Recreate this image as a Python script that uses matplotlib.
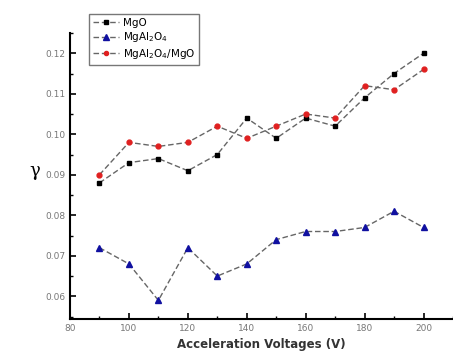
import numpy as np
import matplotlib.pyplot as plt
from matplotlib.ticker import MultipleLocator

voltage = [90, 100, 110, 120, 130, 140, 150, 160, 170, 180, 190, 200]
mgo = [0.088, 0.093, 0.094, 0.091, 0.095, 0.104, 0.099, 0.104, 0.102, 0.109, 0.115, 0.120]
mgal2o4 = [0.072, 0.068, 0.059, 0.072, 0.065, 0.068, 0.074, 0.076, 0.076, 0.077, 0.081, 0.077]
mixed = [0.090, 0.098, 0.097, 0.098, 0.102, 0.099, 0.102, 0.105, 0.104, 0.112, 0.111, 0.116]

fig = plt.figure(figsize=(4.53, 3.57), dpi=100)
ax = fig.add_axes([0.1545, 0.1064, 0.8455, 0.8012])

ax.plot(voltage, mgo, "--", color="#666666", lw=1, dashes=(4, 2), marker="s", ms=3.5,
        mfc="black", mec="black", label="MgO")
ax.plot(voltage, mgal2o4, "--", color="#666666", lw=1, dashes=(4, 2), marker="^", ms=4.5,
        mfc="#1010a0", mec="#1010a0", label="MgAl$_2$O$_4$")
ax.plot(voltage, mixed, "--", color="#666666", lw=1, dashes=(4, 2), marker="o", ms=3.5,
        mfc="#e02020", mec="#e02020", label="MgAl$_2$O$_4$/MgO")

ax.set_xlim(80, 210)
ax.set_ylim(0.0544, 0.125)
ax.xaxis.set_major_locator(MultipleLocator(20))
ax.xaxis.set_minor_locator(MultipleLocator(10))
ax.yaxis.set_minor_locator(MultipleLocator(0.005))
ax.set_yticks([0.06, 0.07, 0.08, 0.09, 0.10, 0.11, 0.12])
ax.set_yticklabels(["0.06", "0.07", "0.08", "0.09", "0.10", "0.11", "0.12"])
ax.tick_params(direction="in", labelsize=6.5, labelcolor="#777777", width=1.2, length=4)
ax.tick_params(which="minor", direction="in", length=2.5, width=1)
ax.spines["top"].set_visible(False)
ax.spines["right"].set_visible(False)
ax.spines["left"].set_linewidth(1.5)
ax.spines["bottom"].set_linewidth(1.5)

ax.set_xlabel("Acceleration Voltages (V)", fontsize=8.5, fontweight="bold", color="#333333", labelpad=4)
fig.text(0.077, 0.52, "γ", fontsize=13, family="DejaVu Serif", ha="center", va="center")

fig.legend(loc="upper left", bbox_to_anchor=(0.185, 0.975), fontsize=7.5,
           frameon=True, fancybox=False, edgecolor="#555555", handlelength=2.5,
           borderpad=0.35, labelspacing=0.25, handletextpad=0.4, markerscale=0.85)

fig.savefig("out.png", dpi=100)
